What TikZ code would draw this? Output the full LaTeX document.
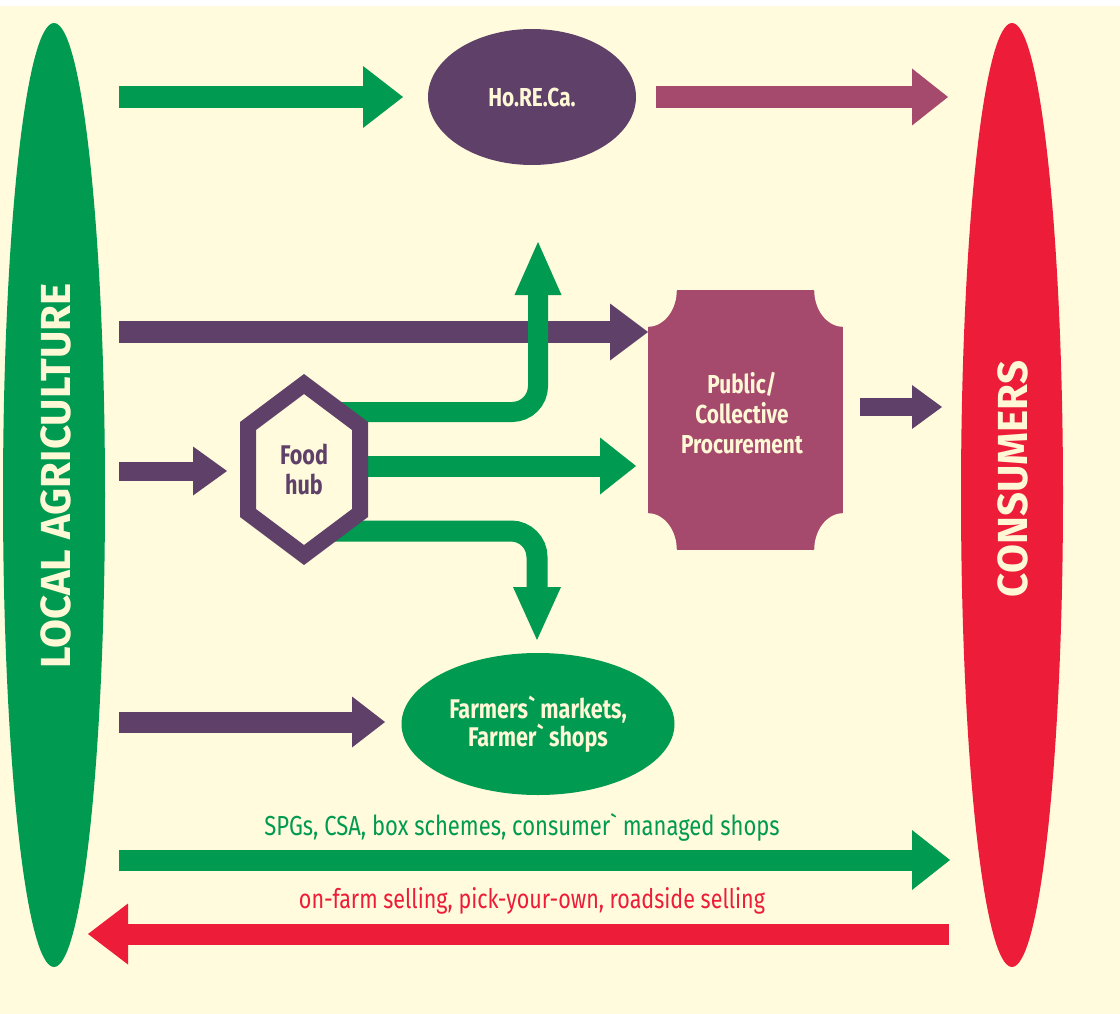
\documentclass[tikz,border=0pt]{standalone}
\usepackage{fontspec}
\setmainfont{Fira Sans}
\newfontfamily\cond{Fira Sans}[FakeStretch=0.8]
\usetikzlibrary{arrows.meta,shapes.geometric}
\definecolor{bg}{HTML}{FFFBDC}
\definecolor{cream}{HTML}{FFF8D6}
\definecolor{grn}{HTML}{009A50}
\definecolor{purp}{HTML}{5F4069}
\definecolor{mauve}{HTML}{A54A6C}
\definecolor{rd}{HTML}{ED1C38}
\tikzset{
  fatarrow/.style n args={3}{line width=#1, -{Triangle[length=#2,width=#3,line width=0pt]}},
  bigoval/.style={ellipse, inner sep=0pt, minimum width=102pt, minimum height=944pt},
  sidelabel/.style={rotate=90, text=cream, font=\bfseries\fontsize{42}{42}\selectfont},
  boxtext/.style={text=cream, align=center, font=\cond\bfseries\fontsize{26}{30}\selectfont},
  flowtext/.style={font=\cond\fontsize{27.5}{27.5}\selectfont}
}
\begin{document}
\begin{tikzpicture}[x=1pt,y=-1pt]
\useasboundingbox (0,0) rectangle (1120,1014);
\fill[white] (0,0) rectangle (1120,1014);
\fill[bg] (0,6) rectangle (1120,1014);

% side ovals
\node[bigoval, fill=grn] (agri) at (54,495) {};
\node[sidelabel] (agrilabel) at (56,476) {LOCAL AGRICULTURE};
\node[bigoval, fill=rd] (cons) at (1012,495) {};
\node[sidelabel] (conslabel) at (1013,479) {CONSUMERS};

% procurement box with notched corners
\node[rectangle, fill=mauve, inner sep=0pt, minimum width=195pt, minimum height=260pt] (proc) at (745.5,420) {};
\fill[bg] (proc.north west) ellipse [x radius=29pt, y radius=37pt];
\fill[bg] (proc.north east) ellipse [x radius=29pt, y radius=37pt];
\fill[bg] (proc.south west) ellipse [x radius=29pt, y radius=37pt];
\fill[bg] (proc.south east) ellipse [x radius=29pt, y radius=37pt];
\node[boxtext] (proclabel) at (742,413) {Public/\\Collective\\Procurement};

% other nodes
\node[ellipse, fill=purp, inner sep=0pt, minimum width=208pt, minimum height=136pt, boxtext] (horeca) at (532,97) {Ho.RE.Ca.};
\node[ellipse, fill=grn, inner sep=0pt, minimum width=273pt, minimum height=142pt, boxtext, font=\cond\bfseries\fontsize{27}{27}\selectfont] (farm) at (538,724) {Farmers\char"60{} markets,\\Farmer\char"60{} shops};

% coordinates
\coordinate (a1s) at (119,97);  \coordinate (a1e) at (403,97);
\coordinate (a2s) at (656,97);  \coordinate (a2e) at (948,97);
\coordinate (a3s) at (119,332); \coordinate (a3e) at (648,332);
\coordinate (a4s) at (860,407); \coordinate (a4e) at (942,407);
\coordinate (a5s) at (119,471); \coordinate (a5e) at (227,471);
\coordinate (hubup) at (304,412);   \coordinate (upe) at (538,242);
\coordinate (hubmid) at (304,466);  \coordinate (mide) at (636,466);
\coordinate (hublow) at (304,531);  \coordinate (lowe) at (537,640);
\coordinate (a9s) at (119,722); \coordinate (a9e) at (385,722);
\coordinate (a10s) at (119,860); \coordinate (a10e) at (950,860);
\coordinate (a11s) at (949,934); \coordinate (a11e) at (88,934);

% arrows
\draw[grn, fatarrow={22pt}{40pt}{62pt}] (a1s) -- (a1e);
\draw[mauve, fatarrow={22pt}{36pt}{57pt}] (a2s) -- (a2e);
\draw[purp, fatarrow={22pt}{38pt}{57pt}] (a3s) -- (a3e);
\draw[purp, fatarrow={18pt}{30pt}{44pt}] (a4s) -- (a4e);
\draw[purp, fatarrow={19pt}{34pt}{49pt}] (a5s) -- (a5e);
\draw[grn, fatarrow={20pt}{53pt}{47pt}, rounded corners=26pt] (hubup) -| (upe);
\draw[grn, fatarrow={21pt}{36pt}{57pt}] (hubmid) -- (mide);
\draw[grn, fatarrow={21pt}{53pt}{48pt}, rounded corners=26pt] (hublow) -| (lowe);
\draw[purp, fatarrow={21pt}{33pt}{51pt}] (a9s) -- (a9e);
\draw[grn, fatarrow={21pt}{38pt}{60pt}] (a10s) -- (a10e);
\draw[rd, fatarrow={21pt}{40pt}{61pt}] (a11s) -- (a11e);

% food hub hexagon
\draw[purp, line width=16pt, fill=bg, line join=miter] (304,384) -- (360,426) -- (360,513) -- (304,555) -- (248,513) -- (248,426) -- cycle;
\node[align=center, text=purp, font=\cond\bfseries\fontsize{27}{30}\selectfont] (hub) at (304,469) {Food\\hub};

% flow labels
\node[flowtext, text=grn] (spg) at (522,827) {SPGs, CSA, box schemes, consumer\char"60{} managed shops};
\node[flowtext, text=rd, font=\cond\fontsize{26.9}{26.9}\selectfont] (onfarm) at (532,901) {on-farm selling, pick-your-own, roadside selling};
\end{tikzpicture}
\end{document}
